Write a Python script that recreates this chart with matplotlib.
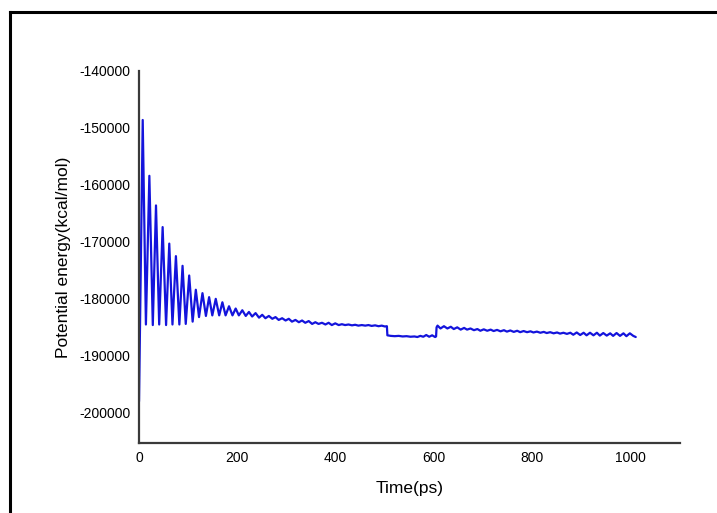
import numpy as np
import matplotlib
matplotlib.use('Agg')
import matplotlib.pyplot as plt
from matplotlib.lines import Line2D

# Time points (ps) and potential energy (kcal/mol)
time_ps = [
    0, 7.5, 14, 21, 28, 34.5, 41, 48, 55, 61.5, 68, 75, 82, 88.5, 95,
    102, 109, 115.5, 122, 129, 136, 142.5, 149, 156, 163, 169.5, 176, 183, 190,
    196.5, 203, 210, 217, 223.5, 230, 237, 244, 250.5, 257, 264, 271, 277.5, 284,
    291, 298, 304.5, 311, 318, 325, 331.5, 338, 345, 352, 358.5, 365, 372, 379,
    385.5, 392, 399, 406, 412.5, 419, 426, 433, 439.5, 446, 453, 460, 466.5, 473,
    480, 487, 493.5, 500, 504,
    505, 512, 520, 528, 536, 544, 552, 560, 566, 572, 578, 584, 590, 596, 602, 604,
    605, 607, 613, 620, 627, 634, 640, 647, 654, 661, 667, 674, 681, 688, 694,
    701, 708, 715, 721, 728, 735, 742, 748, 755, 762, 769, 775, 782, 789, 796,
    802, 809, 816, 823, 829, 836, 843, 850, 856, 863, 870, 877, 883, 890, 897,
    904, 910, 917, 924, 931, 937, 944, 951, 958, 964, 971, 978, 985, 991, 998,
    1005, 1010,
]
energy = [
    -198000, -148600, -184500, -158400, -184600, -163600, -184500, -167400, -184600,
    -170300, -184500, -172500, -184500, -174200, -184400,
    -175900, -184000, -178400, -183200, -179000, -183000, -179700, -182900, -180000,
    -182900, -180600, -182900, -181300, -182900,
    -181700, -182900, -182000, -183000, -182300, -183100, -182500, -183300, -182800,
    -183400, -183000, -183500, -183200, -183700,
    -183400, -183800, -183500, -184000, -183700, -184100, -183800, -184200, -183900,
    -184400, -184100, -184400, -184200, -184500,
    -184200, -184600, -184300, -184600, -184450, -184600, -184500, -184650, -184550,
    -184700, -184600, -184700, -184600, -184750,
    -184650, -184800, -184700, -184850, -184800,
    -186400, -186500, -186550, -186500, -186600, -186550, -186650, -186600, -186700,
    -186500, -186650, -186350, -186650, -186400, -186700, -186600,
    -185000, -184700, -185200, -184800, -185200, -184900, -185300, -185000, -185400,
    -185100, -185400, -185200, -185500, -185300, -185600,
    -185350, -185600, -185400, -185650, -185450, -185700, -185500, -185750, -185550,
    -185800, -185600, -185850, -185650, -185850, -185700,
    -185900, -185750, -185950, -185800, -186000, -185850, -186050, -185900, -186100,
    -185950, -186150, -185950, -186300, -185900, -186350,
    -185950, -186400, -185950, -186400, -185950, -186450, -186000, -186450, -186050,
    -186500, -186000, -186500, -186050, -186550, -186050,
    -186500, -186700,
]

x_ticks = [0, 200, 400, 600, 800, 1000]
y_ticks = [-200000, -190000, -180000, -170000, -160000, -150000, -140000]

plt.rcParams['font.family'] = ['Liberation Sans', 'DejaVu Sans']

fig = plt.figure(figsize=(7.17, 5.13), dpi=100)
ax = fig.add_axes([0.1939, 0.1365, 0.7545, 0.7251])

# Plot energy trace
ax.plot(time_ps, energy, color='#1414dc', linewidth=1.6,
        solid_joinstyle='round', solid_capstyle='round')

ax.set_xlim(0, 1100)
ax.set_ylim(-205300, -140000)
ax.set_xticks(x_ticks)
ax.set_yticks(y_ticks)
ax.set_xticklabels([str(v) for v in x_ticks])
ax.set_yticklabels([str(v) for v in y_ticks])
ax.tick_params(length=0, labelsize=10, pad=6)

ax.spines['top'].set_visible(False)
ax.spines['right'].set_visible(False)
for side in ['left', 'bottom']:
    ax.spines[side].set_color('#3a3a3a')
    ax.spines[side].set_linewidth(1.6)

ax.set_xlabel('Time(ps)', fontsize=12.5, labelpad=11)
ax.set_ylabel('Potential energy(kcal/mol)', fontsize=12.5, labelpad=6)

# Black frame on the left and top edges of the picture
fig.add_artist(Line2D([0.0133, 0.0133], [0.0, 0.9766], color='black', linewidth=2.2,
                      transform=fig.transFigure))
fig.add_artist(Line2D([0.0133, 1.0], [0.9766, 0.9766], color='black', linewidth=2.2,
                      transform=fig.transFigure))

fig.savefig('out.png', dpi=100)
